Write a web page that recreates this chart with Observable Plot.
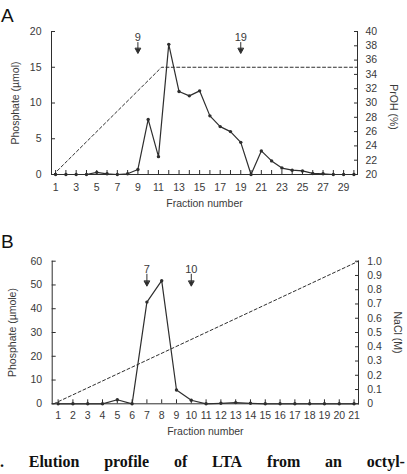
<!DOCTYPE html>
<html>
<head>
<meta charset="utf-8">
<script src="https://cdn.jsdelivr.net/npm/d3@7"></script>
<script src="https://cdn.jsdelivr.net/npm/@observablehq/plot@0.6"></script>
<style>
  html, body { margin: 0; padding: 0; background: #fff; }
  body { width: 407px; height: 474px; overflow: hidden; position: relative;
         font-family: "Liberation Sans", Arial, sans-serif; }
  .panel { position: absolute; left: 0; z-index: 1; }
  .tag { position: absolute; left: 1px; font-size: 19px; line-height: 1; color: #111; z-index: 2; }
  .caption { position: absolute; left: 0; width: 405px; top: 454px; display: flex;
             justify-content: space-between; font-family: "Liberation Serif", "Times New Roman", serif;
             font-weight: bold; font-size: 16px; line-height: 1; color: #111; white-space: nowrap; }
</style>
</head>
<body>
<div id="panelA" class="panel" style="top:0px"></div>
<div id="panelB" class="panel" style="top:220px"></div>
<div class="tag" style="top:6px">A</div>
<div class="tag" style="top:232px">B</div>
<div class="caption"><span>.</span><span>Elution</span><span>profile</span><span>of</span><span>LTA</span><span>from</span><span>an</span><span>octyl-</span></div>
<script>
// ---- Panel A: octyl-Sepharose elution, phosphate per fraction with PrOH gradient
const fractionsA = d3.range(1, 31);
const phosphateA = [0, 0, 0, 0, 0.3, 0.1, 0, 0.1, 0.7, 7.7, 2.5, 18.2, 11.6, 11.0, 11.7,
                    8.2, 6.7, 6.0, 4.5, 0, 3.3, 1.9, 0.9, 0.6, 0.5, 0.15, 0.1, 0, 0, 0];
const prohFractions = [0.8, 11.3, 30.35];
const prohPercent = [20, 35, 35];
const markedA = [9, 19];
const phosTicksA = [0, 5, 10, 15, 20];
const prohTicks = [20, 22, 24, 26, 28, 30, 32, 34, 36, 38, 40];

// ---- Panel B: ion-exchange elution, phosphate per fraction with NaCl gradient
const fractionsB = d3.range(1, 22);
const phosphateB = [0, 0, 0, 0, 1.7, 0, 42.8, 51.8, 5.8, 1.5, 0, 0.2, 0.5, 0.2, 0,
                    0, 0, 0, 0, 0, 0];
const naclFractions = [0.7, 21.3];
const naclMolar = [0, 1.0];
const markedB = [7, 10];
const phosTicksB = [0, 10, 20, 30, 40, 50, 60];
const naclTicks = [0, 0.1, 0.2, 0.3, 0.4, 0.5, 0.6, 0.7, 0.8, 0.9, 1.0];

const ink = "#2e2e2e";
const textInk = "#3a3a3a";
const style = { fontFamily: "'Liberation Sans', Arial, sans-serif", fontSize: "10.5px",
                color: textInk, background: "transparent", overflow: "visible" };

// downward pointing marker arrow with a filled head
const arrowDown = {
  draw(ctx, l) {
    ctx.moveTo(0, 0);
    ctx.lineTo(0, -l + 4);
    ctx.moveTo(-2.7, -l + 5);
    ctx.lineTo(0, -l);
    ctx.lineTo(2.7, -l + 5);
    ctx.closePath();
  }
};

function markers(fracs, labelDy, arrowDy, arrowLen) {
  return [
    Plot.text(fracs, { x: d => d, frameAnchor: "top", dy: labelDy, text: d => String(d),
                       fill: textInk, fontSize: 11 }),
    Plot.vector(fracs, { x: d => d, frameAnchor: "top", dy: arrowDy, length: arrowLen,
                         rotate: 180, anchor: "start", shape: arrowDown,
                         stroke: ink, fill: ink, strokeWidth: 1 })
  ];
}

// side titles centred on the frame height
function sideTitle(label, side, offset, dy = 0) {
  return Plot.text([label], { frameAnchor: side, dx: side === "left" ? -offset : offset, dy,
                              rotate: side === "left" ? -90 : 90, textAnchor: "middle",
                              lineAnchor: "middle", fill: textInk });
}

// ----- A -----
const seriesA = fractionsA.map((f, i) => ({ f, p: phosphateA[i] }));
const gradA = prohFractions.map((f, i) => ({ f, v: prohPercent[i] }));
const oddA = new Set(fractionsA.filter(f => f % 2 === 1));

const plotA = Plot.plot({
  width: 407, height: 220,
  marginTop: 31, marginBottom: 46, marginLeft: 51, marginRight: 50,
  style,
  x: { domain: [0.6, 30.35] },
  y: { domain: [0, 20] },
  marks: [
    Plot.frame({ anchor: "left", stroke: ink }),
    Plot.frame({ anchor: "right", stroke: ink }),
    Plot.frame({ anchor: "bottom", stroke: ink }),
    Plot.axisX({ ticks: fractionsA, tickSize: -4, tickPadding: 13, stroke: ink,
                 tickFormat: d => oddA.has(d) ? String(d) : "", label: null }),
    Plot.axisY({ anchor: "left", ticks: phosTicksA, tickSize: -4, tickPadding: 14,
                 stroke: ink, label: null }),
    Plot.axisY({ anchor: "right", ticks: prohTicks.map(v => v - 20), tickSize: -4,
                 tickPadding: 12, stroke: ink, tickFormat: d => String(d + 20), label: null }),
    sideTitle("Phosphate (\u00b5mol)", "left", 36),
    sideTitle("PrOH (%)", "right", 36, 4),
    Plot.text(["Fraction number"], { frameAnchor: "bottom", dy: 32, fill: textInk }),
    Plot.line(gradA, { x: "f", y: d => d.v - 20, stroke: ink, strokeWidth: 1,
                       strokeDasharray: "3,2.4" }),
    Plot.line(seriesA, { x: "f", y: "p", stroke: ink, strokeWidth: 1.2 }),
    Plot.dot(seriesA, { x: "f", y: "p", r: 1.7, fill: ink, stroke: "none" }),
    ...markers(markedA, 2, 11, 11)
  ]
});
document.getElementById("panelA").append(plotA);

// ----- B -----
const seriesB = fractionsB.map((f, i) => ({ f, p: phosphateB[i] }));
const gradB = naclFractions.map((f, i) => ({ f, v: naclMolar[i] }));

const plotB = Plot.plot({
  width: 407, height: 225,
  marginTop: 40.7, marginBottom: 41.7, marginLeft: 51.7, marginRight: 49,
  style,
  x: { domain: [0.6, 21.3] },
  y: { domain: [0, 60] },
  marks: [
    Plot.frame({ anchor: "left", stroke: ink }),
    Plot.frame({ anchor: "right", stroke: ink }),
    Plot.frame({ anchor: "bottom", stroke: ink }),
    Plot.axisX({ ticks: fractionsB, tickSize: -4, tickPadding: 11.3, stroke: ink, label: null }),
    Plot.axisY({ anchor: "left", ticks: phosTicksB, tickSize: -4, tickPadding: 14,
                 stroke: ink, label: null }),
    Plot.axisY({ anchor: "right", ticks: naclTicks.map(v => v * 60), tickSize: -4,
                 tickPadding: 12.7, stroke: ink,
                 tickFormat: d => d === 0 ? "0" : (d / 60).toFixed(1), label: null }),
    sideTitle("Phosphate (\u00b5mole)", "left", 40),
    sideTitle("NaCl (M)", "right", 39),
    Plot.text(["Fraction number"], { frameAnchor: "bottom", dy: 30.7, fill: textInk }),
    Plot.line(gradB, { x: "f", y: d => d.v * 60, stroke: ink, strokeWidth: 1,
                       strokeDasharray: "3,2.4" }),
    Plot.line(seriesB, { x: "f", y: "p", stroke: ink, strokeWidth: 1.2 }),
    Plot.dot(seriesB, { x: "f", y: "p", r: 1.7, fill: ink, stroke: "none" }),
    ...markers(markedB, 4.3, 13, 12)
  ]
});
document.getElementById("panelB").append(plotB);
</script>
</body>
</html>
